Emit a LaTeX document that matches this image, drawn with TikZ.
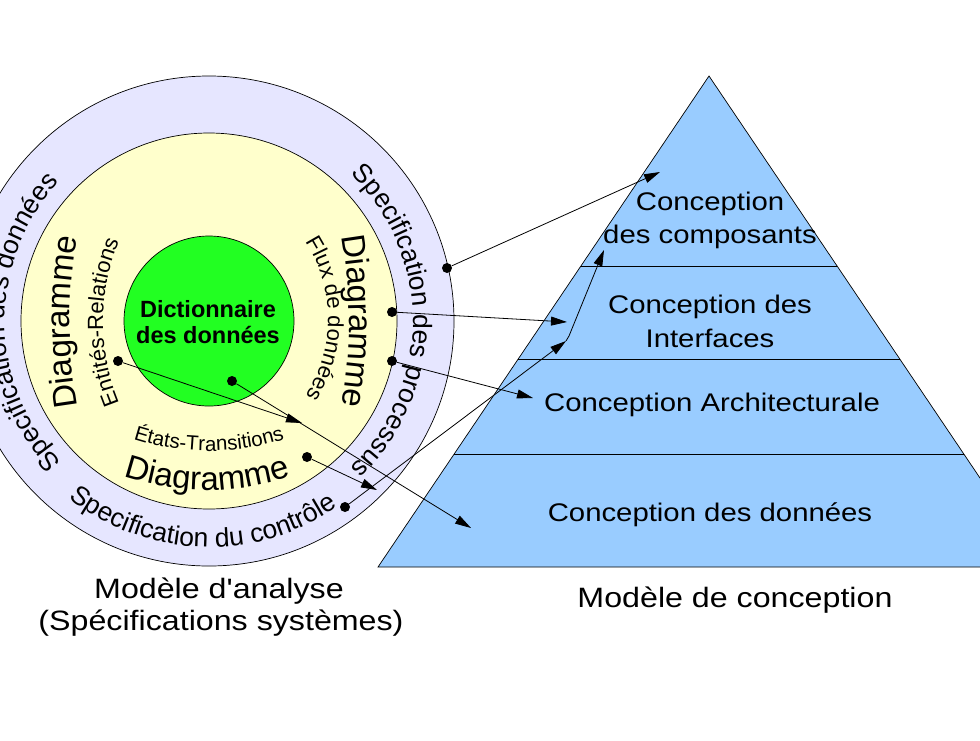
\documentclass[tikz,border=0pt]{standalone}
\usepackage{fontspec}
\setmainfont{Liberation Sans}
\newfontfamily\widef{Liberation Sans}[FakeStretch=1.15]
\usetikzlibrary{arrows.meta,decorations.text,calc}
\definecolor{ringc}{RGB}{230,230,255}
\definecolor{yelc}{RGB}{255,255,204}
\definecolor{greenc}{RGB}{34,255,34}
\definecolor{pyrc}{RGB}{153,204,255}
\begin{document}
\begin{tikzpicture}[x=1pt,y=1pt,
  dot/.style={circle,fill=black,inner sep=0pt,minimum size=10pt},
  arr/.style={line width=0.8pt,-{Triangle[length=16pt,width=9pt]}},
  outline/.style={line width=0.7pt},
  pyrtext/.style={font=\widef\fontsize{25.5}{30}\selectfont,anchor=base,inner sep=0pt},
  captext/.style={font=\widef\fontsize{28}{32}\selectfont,anchor=base,inner sep=0pt},
  dictext/.style={font=\bfseries\fontsize{23.5}{26}\selectfont,anchor=base,inner sep=0pt}]
\useasboundingbox (0,0) rectangle (980,-740);
\clip (0,0) rectangle (980,-740);

% --- rings
\coordinate (c) at (209,-321);
\filldraw[fill=ringc,outline] (c) circle[radius=245pt];
\filldraw[fill=yelc,outline] (c) circle[radius=188pt];
\filldraw[fill=greenc,outline] (c) circle[radius=85pt];

% --- pyramid
\coordinate (apex) at (709,-76);
\coordinate (bl) at (378,-567);
\coordinate (br) at (1040,-567);
\filldraw[fill=pyrc,outline] (apex) -- (br) -- (bl) -- cycle;
\foreach \t in {0.387,0.5764,0.7699}
  \draw[outline] ($(apex)!\t!(bl)$) -- ($(apex)!\t!(br)$);

\node[pyrtext] (p1a) at (710,-210) {Conception};
\node[pyrtext] (p1b) at (710,-243) {des composants};
\node[pyrtext] (p2a) at (710,-313) {Conception des};
\node[pyrtext] (p2b) at (710,-347) {Interfaces};
\node[pyrtext] (p3) at (712,-411) {Conception Architecturale};
\node[pyrtext] (p4) at (710,-521) {Conception des données};

% --- captions
\node[captext] (m1a) at (219,-598) {Modèle d'analyse};
\node[captext] (m1b) at (221,-630) {(Spécifications systèmes)};
\node[captext] (m2) at (735,-607) {Modèle de conception};

% --- dictionary
\node[dictext] (dict1) at (208,-317) {Dictionnaire};
\node[dictext] (dict2) at (208,-343) {des données};

% --- outer ring curved texts
\path[decorate,decoration={text along path,text align=center,
  text={|\fontsize{26.5}{30}\selectfont|Specification des processus}}]
  ($(c)+(62:204pt)$) arc[start angle=62,end angle=-62,radius=204pt];
\path[decorate,decoration={text along path,text align=center,
  text={|\fontsize{26.5}{30}\selectfont|Specification des données}}]
  ($(c)+(242.5:204pt)$) arc[start angle=242.5,end angle=118.5,radius=204pt];
\path[decorate,decoration={text along path,text align=center,
  text={|\fontsize{26.5}{30}\selectfont|Specification du contrôle}}]
  ($(c)+(-150:226pt)$) arc[start angle=-150,end angle=-33.5,radius=226pt];

% --- yellow ring curved texts
\coordinate (cdl) at (570,-322);
\path[decorate,decoration={text along path,text align=center,
  text={|\fontsize{33}{36}\selectfont|Diagramme}}]
  ($(cdl)+(195:500pt)$) arc[start angle=195,end angle=165,radius=500pt];
\coordinate (cdr) at (-151,-321);
\path[decorate,decoration={text along path,text align=center,
  text={|\fontsize{33}{36}\selectfont|Diagramme}}]
  ($(cdr)+(15:500pt)$) arc[start angle=15,end angle=-15,radius=500pt];
\coordinate (cdb) at (207,-230);
\path[decorate,decoration={text along path,text align=center,
  text={|\fontsize{33}{36}\selectfont|Diagramme}}]
  ($(cdb)+(-125:260pt)$) arc[start angle=-125,end angle=-55,radius=260pt];
\coordinate (cer) at (313,-322);
\path[decorate,decoration={text along path,text align=center,
  text={|\fontsize{22}{25}\selectfont|Entités-Relations}}]
  ($(cer)+(220:210pt)$) arc[start angle=220,end angle=140,radius=210pt];
\coordinate (cfd) at (184,-319);
\path[decorate,decoration={text along path,text align=center,
  text={|\fontsize{22}{25}\selectfont|Flux de données}}]
  ($(cfd)+(55:144pt)$) arc[start angle=55,end angle=-55,radius=144pt];
\coordinate (cet) at (209,-206);
\path[decorate,decoration={text along path,text align=center,
  text={|\fontsize{20.5}{24}\selectfont|États-Transitions}}]
  ($(cet)+(-125:245pt)$) arc[start angle=-125,end angle=-55,radius=245pt];

% --- dots and arrows
\node[dot] (d1) at (447,-268) {};
\node[dot] (d2) at (392,-312) {};
\node[dot] (d3) at (392,-361) {};
\node[dot] (d4) at (345,-507) {};
\node[dot] (d5) at (307,-457) {};
\node[dot] (d6) at (118,-361) {};
\node[dot] (d7) at (232,-381) {};
\coordinate (t1) at (660,-172);
\coordinate (t2) at (567,-322);
\coordinate (t3) at (533,-398);
\coordinate (t4a) at (566,-341);
\coordinate (k4) at (569,-336);
\coordinate (t4b) at (604,-250);
\coordinate (t5) at (377,-490);
\coordinate (t6) at (302,-423);
\coordinate (t7) at (471,-528);
\draw[arr] (d1) -- (t1);
\draw[arr] (d2) -- (t2);
\draw[arr] (d3) -- (t3);
\draw[arr] (d4) -- (t4a);
\draw[arr] (t4a) -- (k4) -- (t4b);
\draw[arr] (d5) -- (t5);
\draw[arr] (d6) -- (t6);
\draw[arr] (d7) -- (t7);
\end{tikzpicture}
\end{document}
